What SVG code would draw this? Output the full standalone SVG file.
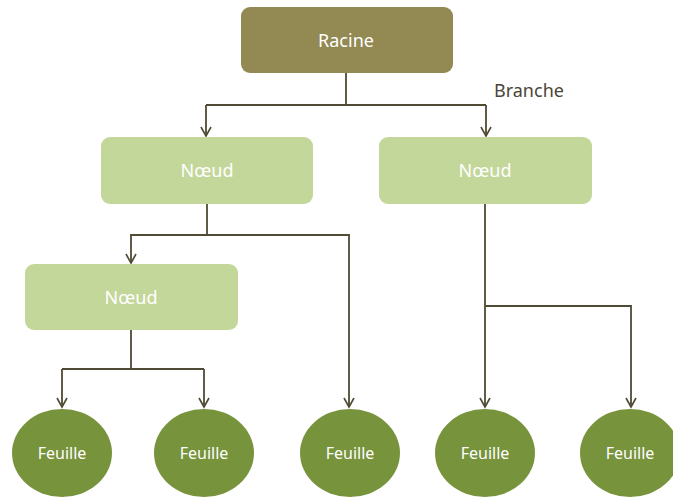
<svg xmlns="http://www.w3.org/2000/svg" width="673" height="497" viewBox="0 0 673 497">
<defs>
<marker id="arr" markerWidth="14" markerHeight="14" refX="11" refY="7" orient="auto" markerUnits="userSpaceOnUse" viewBox="0 0 14 14">
<path d="M2,2 L11,7 L2,12" fill="none" stroke="#4e4a33" stroke-width="1.6"/>
</marker>
</defs>
<style>
.lbl{font-family:"Noto Sans","Liberation Sans",sans-serif;fill:#ffffff;text-anchor:middle;dominant-baseline:central}
.root{fill:#938953}
.node{fill:#c4d79b}
.leaf{fill:#77933c}
.c{fill:none;stroke:#4e4a33;stroke-width:1.8}
</style>
<rect width="673" height="497" fill="#ffffff"/>
<g id="connectors">
<path class="c" d="M346,73 V105"/>
<path class="c" d="M206,105 H486"/>
<path class="c" d="M206,105 V136" marker-end="url(#arr)"/>
<path class="c" d="M486,105 V136" marker-end="url(#arr)"/>
<path class="c" d="M207,204 V235 H349 V407" marker-end="url(#arr)"/>
<path class="c" d="M207,235 H131 V263" marker-end="url(#arr)"/>
<path class="c" d="M131,330 V369"/>
<path class="c" d="M62,369 H204"/>
<path class="c" d="M62,369 V407" marker-end="url(#arr)"/>
<path class="c" d="M204,369 V407" marker-end="url(#arr)"/>
<path class="c" d="M485,204 V407" marker-end="url(#arr)"/>
<path class="c" d="M485,306 H631 V407" marker-end="url(#arr)"/>
<text x="494" y="90" style="font-family:'Noto Sans','Liberation Sans',sans-serif;font-size:18px;fill:#4a4538;dominant-baseline:central">Branche</text>
</g>
<g id="racine"><rect class="root" x="241" y="7" width="212" height="66" rx="9"/><text class="lbl" x="346" y="40" font-size="18">Racine</text></g>
<g id="noeud1"><rect class="node" x="101" y="137" width="212" height="67" rx="9"/><text class="lbl" x="207" y="170" font-size="18">Nœud</text></g>
<g id="noeud2"><rect class="node" x="379" y="137" width="213" height="67" rx="9"/><text class="lbl" x="485" y="170" font-size="18">Nœud</text></g>
<g id="noeud3"><rect class="node" x="25" y="264" width="213" height="66" rx="9"/><text class="lbl" x="131" y="297" font-size="18">Nœud</text></g>
<g id="feuille1"><ellipse class="leaf" cx="62" cy="453" rx="50" ry="44"/><text class="lbl" x="62" y="453" font-size="16">Feuille</text></g>
<g id="feuille2"><ellipse class="leaf" cx="204" cy="453" rx="50" ry="44"/><text class="lbl" x="204" y="453" font-size="16">Feuille</text></g>
<g id="feuille3"><ellipse class="leaf" cx="350" cy="453" rx="50" ry="44"/><text class="lbl" x="350" y="453" font-size="16">Feuille</text></g>
<g id="feuille4"><ellipse class="leaf" cx="485" cy="453" rx="50" ry="44"/><text class="lbl" x="485" y="453" font-size="16">Feuille</text></g>
<g id="feuille5"><ellipse class="leaf" cx="630" cy="453" rx="50" ry="44"/><text class="lbl" x="630" y="453" font-size="16">Feuille</text></g>
</svg>
